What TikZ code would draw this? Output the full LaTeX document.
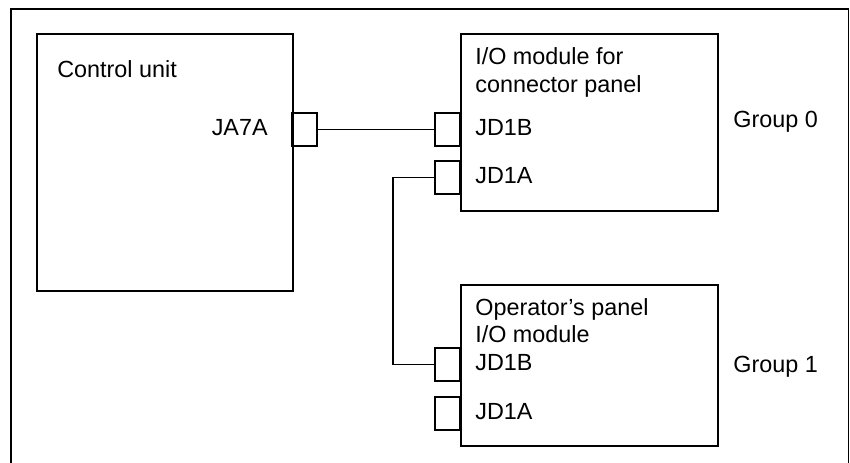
\documentclass[tikz,border=0pt]{standalone}
\usepackage{fontspec}
\setmainfont{Liberation Sans}
\usetikzlibrary{positioning}
\tikzset{
  frame/.style={line width=0.6pt},
  unit/.style={draw,line width=1.1pt,inner sep=0pt,anchor=north west,minimum width=5.14cm},
  conn/.style={draw,line width=1.1pt,inner sep=0pt,minimum width=0.5cm,minimum height=0.66cm},
  lbl/.style={font=\fontsize{13.3}{15.4}\selectfont,inner sep=0pt,anchor=base west},
  wire/.style={line width=1.1pt}
}
\begin{document}
\begin{tikzpicture}[x=0.02cm,y=-0.02cm]
    \useasboundingbox (0,0) rectangle (850,463);
    \draw[frame] (11,463) |- (848.5,9) -- (848.5,463);
    % units
    \node[unit,minimum width=5.12cm,minimum height=5.14cm] (cu) at (36,33) {};
    \node[unit,minimum height=3.54cm] (iom) at (460,33) {};
    \node[unit,minimum height=3.22cm] (opm) at (460,284) {};
    % connectors
    \node[conn] (ja7a) at (304.5,129.5) {};
    \node[conn] (jd1b) at (447.5,129.5) {};
    \node[conn] (jd1a) at (447.5,177.5) {};
    \node[conn] (jd1bop) at (447.5,364.5) {};
    \node[conn] (jd1aop) at (447.5,413.5) {};
    % texts
    \node[lbl] (tcu) at (57,77) {Control unit};
    \node[lbl,anchor=base east] (tja7a) at (268,135) {JA7A};
    \node[lbl] (tiom) at (475,65) {I/O module for};
    \node[lbl] (tiom2) at (475,92) {connector panel};
    \node[lbl] (tjd1b) at (475,135) {JD1B};
    \node[lbl] (tjd1a) at (475,183) {JD1A};
    \node[lbl] (topm) at (475,315) {Operator’s panel};
    \node[lbl] (topm2) at (475,342) {I/O module};
    \node[lbl] (tjd1bop) at (475,370) {JD1B};
    \node[lbl] (tjd1aop) at (475,419) {JD1A};
    \node[lbl] (grp0) at (733,128) {Group 0};
    \node[lbl] (grp1) at (733,372) {Group 1};
    % cables
    \draw[wire] (ja7a) -- (jd1b);
    \draw[wire] (jd1a.west) -- ++(-41,0) |- (jd1bop.west);
\end{tikzpicture}
\end{document}
